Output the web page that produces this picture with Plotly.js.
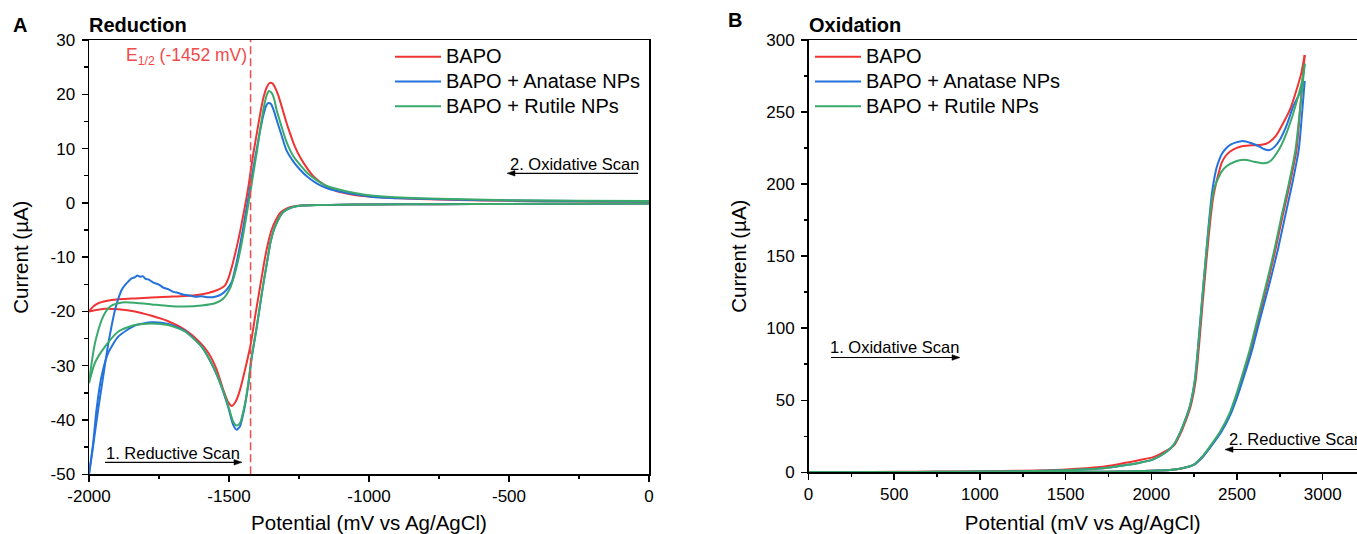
<!DOCTYPE html>
<html>
<head>
<meta charset="utf-8">
<script src="https://cdn.plot.ly/plotly-3.0.1.min.js"></script>
<style>html,body{margin:0;padding:0;background:#fff;}#chart{width:1357px;height:534px;}</style>
</head>
<body>
<div id="chart"></div>
<script>
// ---------- Panel A: Reduction (mV vs µA) ----------
const bapoRedFwdX = [0,-250,-500,-750,-1000,-1100,-1180,-1246,-1282,-1300,-1318,-1333,-1348,-1360,-1372,-1383,-1395,-1407,-1422,-1443,-1461,-1476,-1490,-1502,-1520,-1544,-1574,-1610,-1657,-1717,-1776,-1836,-1895,-1943,-2000];
const bapoRedFwdY = [-0.1,-0.15,-0.2,-0.25,-0.3,-0.35,-0.4,-0.5,-0.8,-1.2,-1.9,-3.2,-5.0,-7.3,-10.3,-13.6,-17.3,-21.0,-25.9,-30.8,-34.5,-36.6,-37.4,-36.8,-34.5,-30.7,-27.6,-25.4,-23.4,-21.8,-20.8,-20.0,-19.6,-19.5,-20.0];
const bapoRedRevX = [-2000,-1985,-1967,-1919,-1836,-1717,-1621,-1574,-1538,-1514,-1500,-1490,-1480,-1470,-1460,-1449,-1440,-1431,-1413,-1400,-1389,-1378,-1365,-1354,-1345,-1336,-1324,-1312,-1296,-1282,-1265,-1246,-1220,-1199,-1160,-1128,-1080,-1032,-950,-889,-750,-600,-400,-200,0];
const bapoRedRevY = [-20.0,-19.1,-18.5,-17.9,-17.6,-17.3,-17.0,-16.6,-16.0,-15.2,-13.6,-11.8,-9.8,-7.6,-5.2,-2.2,0.2,2.9,9.1,13.0,16.3,19.2,21.3,22.1,22.0,21.3,19.8,17.8,15.0,12.8,10.4,8.4,6.3,4.9,3.3,2.4,1.7,1.3,1.0,0.85,0.6,0.45,0.35,0.25,0.2];

const anataseRedFwdX = [0,-250,-500,-750,-1000,-1100,-1180,-1238,-1274,-1292,-1310,-1325,-1340,-1352,-1362,-1373,-1383,-1401,-1419,-1431,-1445,-1461,-1473,-1485,-1502,-1526,-1556,-1598,-1657,-1717,-1776,-1836,-1895,-1931,-1955,-1973,-1985,-2000];
const anataseRedFwdY = [-0.1,-0.15,-0.2,-0.25,-0.3,-0.35,-0.4,-0.5,-0.8,-1.2,-1.9,-3.2,-5.0,-7.3,-10.3,-13.6,-16.8,-23.0,-28.6,-33.5,-37.9,-41.2,-41.8,-40.9,-37.8,-34.0,-30.3,-26.5,-23.6,-22.3,-22.0,-22.6,-24.6,-27.6,-31.9,-38.0,-44.2,-50.0];
const anataseRedRevX = [-2000,-1990,-1979,-1967,-1955,-1943,-1931,-1919,-1907,-1895,-1883,-1871,-1860,-1848,-1836,-1827,-1818,-1808,-1798,-1788,-1770,-1752,-1735,-1717,-1699,-1681,-1663,-1645,-1620,-1598,-1575,-1550,-1526,-1508,-1490,-1480,-1470,-1460,-1450,-1440,-1430,-1420,-1405,-1390,-1378,-1368,-1360,-1350,-1340,-1330,-1312,-1295,-1270,-1246,-1220,-1187,-1150,-1104,-1050,-985,-889,-750,-500,-250,0];
const anataseRedRevY = [-50.0,-46.5,-42.4,-38.0,-33.9,-29.8,-25.9,-22.6,-19.7,-17.6,-16.0,-15.1,-14.5,-13.9,-13.7,-13.4,-13.6,-13.5,-14.0,-14.1,-14.7,-15.0,-15.6,-15.9,-16.4,-16.6,-16.9,-17.0,-17.3,-17.2,-17.4,-17.3,-16.8,-16.0,-14.5,-12.6,-10.3,-7.6,-4.8,-1.8,1.2,4.3,8.8,13.0,16.0,17.8,18.4,18.2,17.0,15.3,12.4,9.7,7.6,6.1,4.8,3.6,2.7,2.1,1.6,1.1,0.85,0.65,0.45,0.35,0.3];

const rutileRedFwdX = [0,-250,-500,-750,-1000,-1100,-1180,-1238,-1274,-1292,-1310,-1325,-1340,-1352,-1362,-1373,-1383,-1401,-1419,-1431,-1445,-1461,-1473,-1485,-1502,-1526,-1556,-1598,-1657,-1717,-1776,-1836,-1895,-1943,-1979,-2000];
const rutileRedFwdY = [-0.1,-0.15,-0.2,-0.25,-0.3,-0.35,-0.4,-0.5,-0.8,-1.2,-1.9,-3.2,-5.0,-7.3,-10.3,-13.6,-16.7,-22.8,-28.3,-33.2,-37.5,-40.6,-41.0,-40.3,-37.5,-33.9,-30.2,-26.5,-23.7,-22.5,-22.2,-22.5,-23.7,-26.5,-29.5,-33.2];
const rutileRedRevX = [-2000,-1990,-1979,-1967,-1955,-1943,-1931,-1915,-1895,-1870,-1836,-1776,-1717,-1657,-1598,-1550,-1520,-1496,-1479,-1467,-1455,-1445,-1435,-1425,-1415,-1400,-1388,-1376,-1365,-1357,-1347,-1338,-1330,-1312,-1295,-1270,-1246,-1220,-1187,-1150,-1104,-1050,-985,-889,-750,-500,-250,0];
const rutileRedRevY = [-33.2,-29.3,-25.9,-23.5,-21.6,-20.3,-19.4,-18.8,-18.5,-18.3,-18.4,-18.7,-19.0,-19.1,-18.9,-18.5,-17.6,-15.7,-13.0,-10.5,-7.5,-4.6,-1.5,1.6,4.8,9.6,13.8,17.5,19.9,20.6,20.2,19.0,17.1,14.0,11.3,8.6,7.0,5.5,4.2,3.1,2.4,1.8,1.3,1.0,0.75,0.5,0.4,0.35];

const halfWavePotential = -1423;   // dashed E1/2 marker position (mV) as drawn
const halfWaveLabel = 'E<sub>1/2</sub> (-1452 mV)';

// ---------- Panel B: Oxidation ----------
const bapoOxFwdX = [0,250,500,750,1000,1250,1500,1700,1816,1933,2011,2089,2135,2171,2200,2229,2259,2280,2300,2320,2340,2360,2378,2395,2409,2430,2458,2495,2535,2585,2633,2665,2691,2730,2769,2810,2847,2875,2895];
const bapoOxFwdY = [0.1,0.2,0.3,0.5,0.7,1.1,2.0,3.6,5.8,8.5,10.5,15,19,27,35.5,45.5,64,90,118,145,170,190,200.5,208.5,214.4,219,222.5,225,226.4,227.0,227.1,227.8,229.4,234,242.2,252,265.3,277,289.6];
const bapoOxRevX = [2895,2870,2847,2806,2765,2724,2678,2629,2580,2528,2496,2462,2405,2345,2301,2246,2181,2108,2000,1914,1816,1650,1500,1250,1000,750,500,250,0];
const bapoOxRevY = [289.6,255,223.7,199,177.4,154.3,131.2,108,84.9,64.1,52,41,28,17.8,11,5.1,2.8,1.6,1.0,0.7,0.5,0.35,0.3,0.2,0.15,0.1,0.05,0.02,0];

const anataseOxFwdX = [0,250,500,750,1000,1250,1500,1700,1816,1933,2011,2089,2130,2166,2195,2224,2254,2275,2295,2315,2335,2352,2366,2380,2395,2412,2438,2465,2490,2535,2580,2633,2660,2690,2720,2749,2790,2827,2865,2895];
const anataseOxFwdY = [0.05,0.1,0.2,0.3,0.5,0.8,1.4,2.6,4.4,6.7,9.0,14.3,19,27,35.5,45.5,64,90,118,145,172,192,203,211,216.5,221,225,227.5,228.8,229.9,228.5,225.9,224.2,223.6,226,230.6,241,253.7,263,271.5];
const anataseOxRevX = [2895,2880,2860,2820,2780,2738,2690,2638,2588,2534,2500,2465,2408,2347,2302,2247,2182,2110,2000,1914,1816,1650,1500,1250,1000,750,500,250,0];
const anataseOxRevY = [271.5,250,223.7,199,177.4,154.3,131.2,108,84.9,64.1,52,41,28,17.8,11,5.1,2.8,1.6,1.0,0.7,0.5,0.35,0.3,0.2,0.15,0.1,0.05,0.02,0];

const rutileOxFwdX = [0,250,500,750,1000,1250,1500,1700,1816,1933,2011,2089,2130,2166,2195,2224,2254,2275,2295,2315,2335,2355,2372,2390,2409,2440,2477,2515,2555,2600,2652,2685,2710,2750,2788,2825,2856,2880,2895];
const rutileOxFwdY = [0.05,0.1,0.2,0.3,0.5,0.8,1.4,2.6,4.4,6.7,9.0,14.3,19,27,35.5,45.5,64,90,118,145,170,190,199,204,208.5,212.5,215,216.6,216.7,215.5,214.4,215.2,217.9,225,235.2,248,260.6,272,283.6];
const rutileOxRevX = [2895,2875,2841,2800,2759,2718,2672,2623,2574,2522,2490,2457,2400,2341,2298,2244,2180,2108,2000,1914,1816,1650,1500,1250,1000,750,500,250,0];
const rutileOxRevY = [283.6,260,223.7,199,177.4,154.3,131.2,108,84.9,64.1,52,41,28,17.8,11,5.1,2.8,1.6,1.0,0.7,0.5,0.35,0.3,0.2,0.15,0.1,0.05,0.02,0];

const seriesNames = ['BAPO', 'BAPO + Anatase NPs', 'BAPO + Rutile NPs'];

// tick labels
const redXTickVals = [-2000,-1500,-1000,-500,0];
const redXTickText = ['-2000','-1500','-1000','-500','0'];
const redYTickVals = [-50,-40,-30,-20,-10,0,10,20,30];
const redYTickText = ['-50','-40','-30','-20','-10','0','10','20','30'];
const oxXTickVals = [0,500,1000,1500,2000,2500,3000];
const oxXTickText = ['0','500','1000','1500','2000','2500','3000'];
const oxYTickVals = [0,50,100,150,200,250,300];
const oxYTickText = ['0','50','100','150','200','250','300'];

// ---------- build ----------
const W = 1357, H = 534;
const px = v => v / W;
const py = v => 1 - v / H;
const FONT = 'Liberation Sans, Arial, Helvetica, sans-serif';
const colors = ['#f03434', '#2472dc', '#3aa96b'];

function branch(x, y, i, xa, ya, leg, show) {
  return {
    x: x, y: y, type: 'scatter', mode: 'lines',
    name: '<span style="font-size:20px">' + seriesNames[i] + '</span>',
    legendgroup: leg + i, legend: leg, showlegend: show,
    xaxis: xa, yaxis: ya,
    line: {color: colors[i], width: 2, shape: 'spline', smoothing: 0.6},
    hoverinfo: 'skip'
  };
}

const traces = [
  branch(bapoRedFwdX, bapoRedFwdY, 0, 'x', 'y', 'legend', true),
  branch(bapoRedRevX, bapoRedRevY, 0, 'x', 'y', 'legend', false),
  branch(anataseRedFwdX, anataseRedFwdY, 1, 'x', 'y', 'legend', true),
  branch(anataseRedRevX, anataseRedRevY, 1, 'x', 'y', 'legend', false),
  branch(rutileRedFwdX, rutileRedFwdY, 2, 'x', 'y', 'legend', true),
  branch(rutileRedRevX, rutileRedRevY, 2, 'x', 'y', 'legend', false),
  branch(bapoOxFwdX, bapoOxFwdY, 0, 'x2', 'y2', 'legend2', true),
  branch(bapoOxRevX, bapoOxRevY, 0, 'x2', 'y2', 'legend2', false),
  branch(anataseOxFwdX, anataseOxFwdY, 1, 'x2', 'y2', 'legend2', true),
  branch(anataseOxRevX, anataseOxRevY, 1, 'x2', 'y2', 'legend2', false),
  branch(rutileOxFwdX, rutileOxFwdY, 2, 'x2', 'y2', 'legend2', true),
  branch(rutileOxRevX, rutileOxRevY, 2, 'x2', 'y2', 'legend2', false)
];

function axisBase(extra) {
  return Object.assign({
    showline: true, linecolor: '#000', linewidth: 1.5,
    ticks: 'outside', ticklen: 6, tickwidth: 1.5, tickcolor: '#000',
    tickfont: {family: FONT, size: 17, color: '#000'},
    showgrid: false, zeroline: false, tickmode: 'array', fixedrange: true
  }, extra);
}

// scan-direction arrows (line + filled head), given in page pixels
function arrow(xTail, xHead, y) {
  const dir = xHead > xTail ? 1 : -1;
  const L = 8, Hh = 2.8;
  const base = xHead - dir * L;
  return [
    {type: 'line', xref: 'paper', yref: 'paper', x0: px(xTail), x1: px(base), y0: py(y), y1: py(y),
     line: {color: '#000', width: 1.2}},
    {type: 'path', xref: 'paper', yref: 'paper',
     path: 'M' + px(xHead) + ',' + py(y) + ' L' + px(base) + ',' + py(y - Hh) + ' L' + px(base) + ',' + py(y + Hh) + ' Z',
     fillcolor: '#000', line: {color: '#000', width: 0.5}}
  ];
}

const titleFont = {family: FONT, size: 20.5, color: '#000'};

const layout = {
  width: W, height: H,
  margin: {l: 0, r: 0, t: 0, b: 0},
  paper_bgcolor: '#fff', plot_bgcolor: '#fff',
  font: {family: FONT, color: '#000'},
  hovermode: false,
  xaxis: axisBase({
    domain: [px(89), px(649)], range: [-2000, 0], anchor: 'y', mirror: true,
    tickvals: redXTickVals, ticktext: redXTickText,
    minor: {tickmode: 'linear', tick0: -2000, dtick: 250, ticks: 'outside', ticklen: 3.5, tickwidth: 1.5, tickcolor: '#000'},
    title: {text: 'Potential (mV vs Ag/AgCl)', font: titleFont, standoff: 14}
  }),
  yaxis: axisBase({
    domain: [py(474.3), py(40)], range: [-50, 30], anchor: 'x', mirror: true,
    tickvals: redYTickVals, ticktext: redYTickText, ticklabelstandoff: 3,
    minor: {tickmode: 'linear', tick0: -50, dtick: 5, ticks: 'outside', ticklen: 3.5, tickwidth: 1.5, tickcolor: '#000'},
    title: {text: 'Current (µA)', font: titleFont, standoff: 16}
  }),
  xaxis2: axisBase({
    domain: [px(808.5), 1], range: [0, 3200], anchor: 'y2', mirror: true,
    tickvals: oxXTickVals, ticktext: oxXTickText,
    minor: {tickmode: 'linear', tick0: 0, dtick: 250, ticks: 'outside', ticklen: 3.5, tickwidth: 1.5, tickcolor: '#000'},
    title: {text: 'Potential (mV vs Ag/AgCl)', font: titleFont, standoff: 14}
  }),
  yaxis2: axisBase({
    domain: [py(472.3), py(40)], range: [0, 300], anchor: 'x2', mirror: false,
    tickvals: oxYTickVals, ticktext: oxYTickText, ticklabelstandoff: 3,
    minor: {tickmode: 'linear', tick0: 0, dtick: 25, ticks: 'outside', ticklen: 3.5, tickwidth: 1.5, tickcolor: '#000'},
    title: {text: 'Current (µA)', font: titleFont, standoff: 14}
  }),
  legend: {
    x: px(390), y: py(39.5), xanchor: 'left', yanchor: 'top',
    bgcolor: 'rgba(0,0,0,0)', borderwidth: 0, itemwidth: 46,
    font: {family: FONT, size: 16.7, color: '#000'}, tracegroupgap: 0
  },
  legend2: {
    x: px(810), y: py(39.5), xanchor: 'left', yanchor: 'top',
    bgcolor: 'rgba(0,0,0,0)', borderwidth: 0, itemwidth: 46,
    font: {family: FONT, size: 16.7, color: '#000'}, tracegroupgap: 0
  },
  shapes: [
    {type: 'line', xref: 'x', yref: 'y', x0: halfWavePotential, x1: halfWavePotential, y0: -50, y1: 30,
     line: {color: '#f04a4a', width: 1.5, dash: '8px,4px'}}
  ].concat(arrow(638, 507, 173.3), arrow(105, 242, 462.3), arrow(831, 960, 357.5), arrow(1375, 1225, 449.5)),
  annotations: [
    {text: '<b>A</b>', xref: 'paper', yref: 'paper', x: px(20), y: py(25), xanchor: 'center', yanchor: 'middle', showarrow: false, font: {family: FONT, size: 20}},
    {text: '<b>Reduction</b>', xref: 'paper', yref: 'paper', x: px(87), y: py(25), xanchor: 'left', yanchor: 'middle', showarrow: false, font: {family: FONT, size: 20}},
    {text: '<b>B</b>', xref: 'paper', yref: 'paper', x: px(735), y: py(20), xanchor: 'center', yanchor: 'middle', showarrow: false, font: {family: FONT, size: 20}},
    {text: '<b>Oxidation</b>', xref: 'paper', yref: 'paper', x: px(807), y: py(25), xanchor: 'left', yanchor: 'middle', showarrow: false, font: {family: FONT, size: 20}},
    {text: halfWaveLabel, xref: 'paper', yref: 'paper', x: px(249), y: py(56), xanchor: 'right', yanchor: 'middle', showarrow: false, font: {family: FONT, size: 17.5, color: '#f04a4a'}},
    {text: '2. Oxidative Scan', xref: 'paper', yref: 'paper', x: px(508), y: py(164), xanchor: 'left', yanchor: 'middle', showarrow: false, font: {family: FONT, size: 16.5}},
    {text: '1. Reductive Scan', xref: 'paper', yref: 'paper', x: px(104), y: py(453), xanchor: 'left', yanchor: 'middle', showarrow: false, font: {family: FONT, size: 16.5}},
    {text: '1. Oxidative Scan', xref: 'paper', yref: 'paper', x: px(828), y: py(347), xanchor: 'left', yanchor: 'middle', showarrow: false, font: {family: FONT, size: 16.5}},
    {text: '2. Reductive Scan', xref: 'paper', yref: 'paper', x: px(1227), y: py(439), xanchor: 'left', yanchor: 'middle', showarrow: false, font: {family: FONT, size: 16.5}}
  ]
};

Plotly.newPlot('chart', traces, layout, {displayModeBar: false, staticPlot: true});
</script>
</body>
</html>
